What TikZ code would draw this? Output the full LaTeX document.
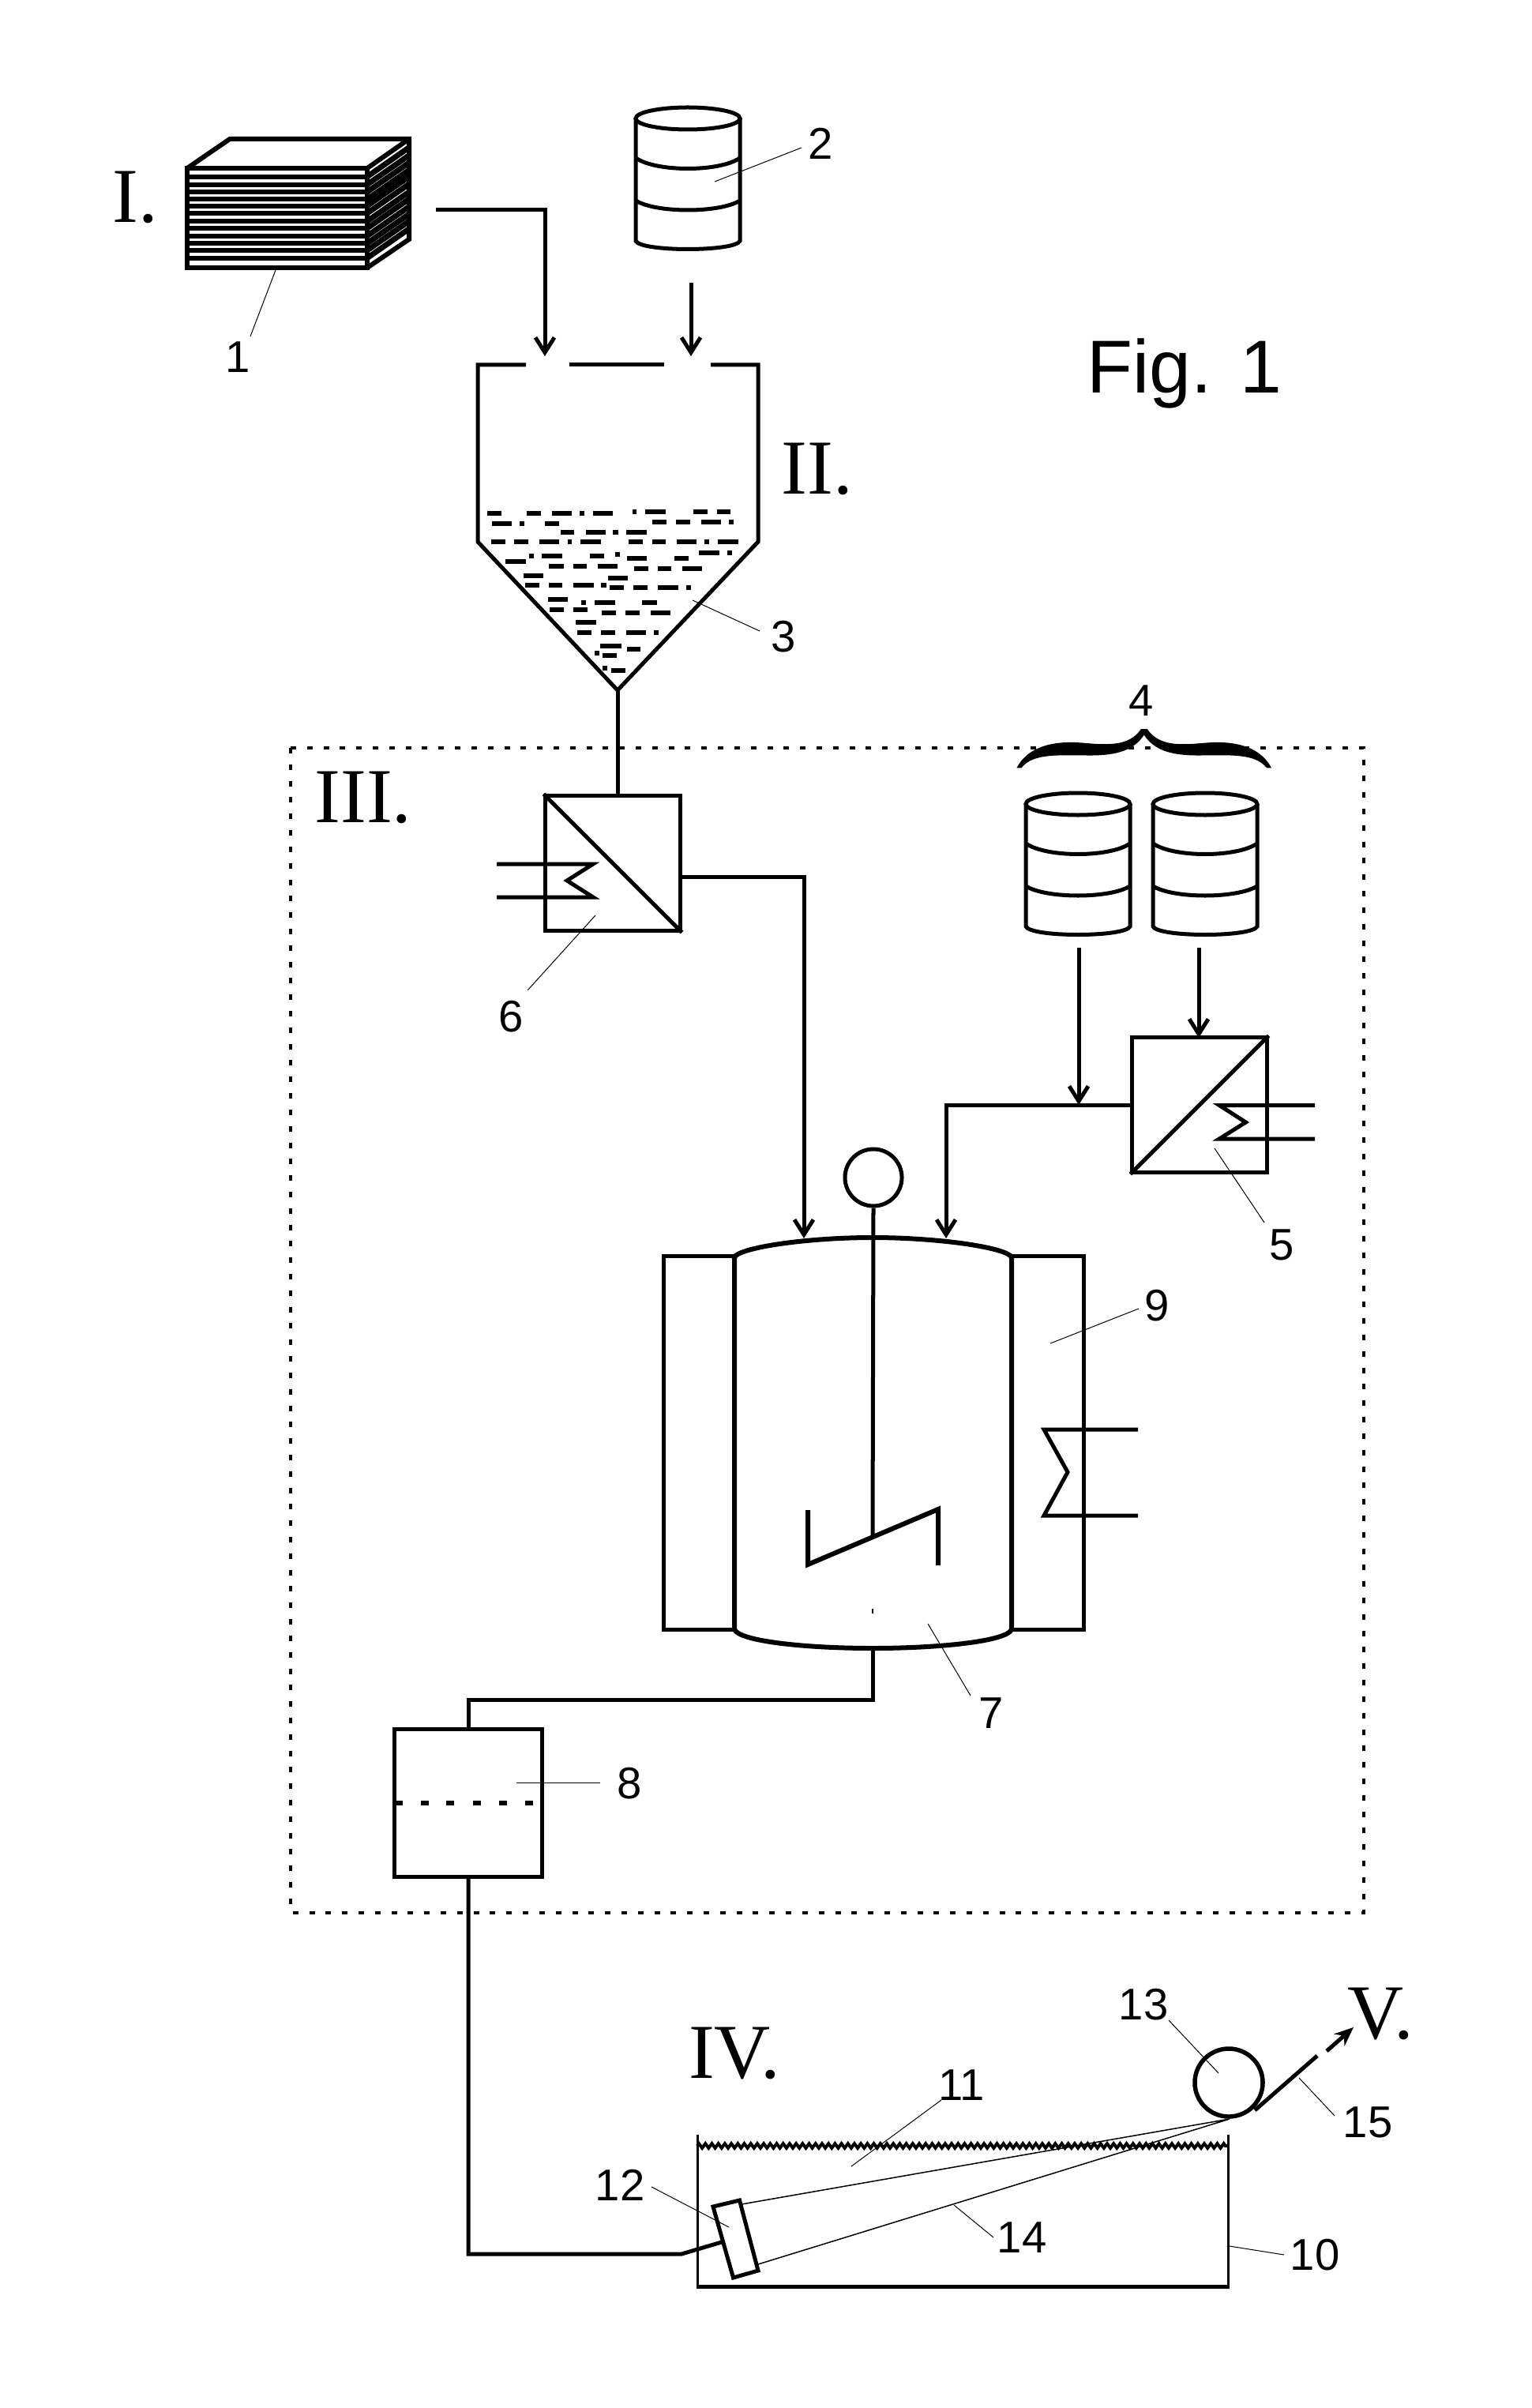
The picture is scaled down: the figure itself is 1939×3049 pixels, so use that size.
\documentclass[tikz,border=0pt]{standalone}
\usepackage{fontspec}
\setmainfont{Liberation Sans}
\newfontfamily\romanfont{Liberation Serif}
\usetikzlibrary{arrows.meta,decorations.pathmorphing}
\tikzset{
  main/.style={line width=0.05cm,draw=black,line cap=butt},
  thickmain/.style={line width=0.06cm,draw=black},
  leader/.style={line width=0.01cm,draw=black},
  film/.style={line width=0.015cm,draw=black},
  flow/.style={main,-{Straight Barb[length=0.19cm,width=0.24cm,line width=0.05cm]}},
  num/.style={font=\fontsize{16}{18}\selectfont,inner sep=0pt},
  stage/.style={font=\romanfont\fontsize{28}{32}\selectfont,inner sep=0pt},
  unitbox/.style={main,rectangle,inner sep=0pt,minimum width=1.70cm,minimum height=1.70cm},
  zone/.style={line width=0.04cm,draw=black,dash pattern=on 0.07cm off 0.138cm},
}
\newcommand{\drumshape}[2]{%
  \begin{scope}[shift={(#1,#2)}]
    \draw[main] (0,0) ellipse [x radius=66,y radius=14];
    \draw[main] (-66,0) -- (-66,155) .. controls (-60,169) and (60,169) .. (66,155) -- (66,0);
    \draw[main] (-66,50) .. controls (-40,68) and (40,68) .. (66,50);
    \draw[main] (-66,104) .. controls (-40,120) and (40,120) .. (66,104);
  \end{scope}}
\newcommand{\leaderline}[5]{%
  \coordinate (#1a) at (#2,#3);
  \coordinate (#1b) at (#4,#5);
  \draw[leader] (#1a) -- (#1b);}
\begin{document}
\begin{tikzpicture}[x=0.01cm,y=-0.01cm]
\useasboundingbox (0,0) rectangle (1939,3049);
\fill[white] (0,0) rectangle (1939,3049);

% stage zone
\draw[zone] (368,947) rectangle (1727,2422);

% stack 1
\draw[thickmain] (237,213) -- (291,176) -- (518,176) -- (518,303) -- (465,339);
\draw[thickmain] (465,213) -- (518,176);
\foreach \y in {223.7,233.7,243,252.3,260.7,270,280,289,298.7,308,317,326.7}{
  \draw[line width=0.06cm] (237,\y) -- (465,\y);
  \draw[line width=0.07cm] (465,\y) -- (518,\y-37);
}
\draw[thickmain] (237,213) rectangle (465,339);

% drum 2 and drums 4
\drumshape{871}{150}
\drumshape{1365}{1018}
\drumshape{1526}{1018}

% hopper
\coordinate (apex) at (782,874);
\coordinate (hl) at (605,462);
\coordinate (hr) at (960,462);
\draw[main] (666,462) -- (hl) -- (605,686) -- (apex) -- (960,686) -- (hr) -- (900,462);
\draw[main] (720.5,462) -- (841,462);
\foreach \yy/\a/\b in {150/171/225,150/321/375,150/417/492,150/522/540,150/573/648,
 144/723/738,144/771/849,144/954/1008,144/1044/1095,
 188/189/264,188/294/312,188/390/444,
 182/798/852,182/888/942,182/984/1059,182/1089/1107,
 222/450/501,222/546/621,222/648/669,222/699/777,
 258/186/240,258/273/327,258/369/444,258/477/492,258/525/603,258/708/762,258/798/849,258/891/966,258/996/1014,258/1047/1125,
 312/330/348,312/378/456,312/561/615,306/657/675,333/240/318,320/702/777,320/882/936,300/975/1053,300/1083/1101,
 351/405/462,351/498/549,351/591/666,360/729/783,360/819/870,360/912/987,
 387/309/384,396/630/705,
 424/315/369,424/405/456,424/498/576,424/603/624,
 433/636/690,433/726/780,433/819/897,433/927/945,
 478/402/477,489/528/546,489/579/657,489/759/816,
 516/408/462,516/498/552,528/606/660,528/696/750,528/792/867,
 565/507/585,603/513/567,603/603/657,603/699/774,603/804/822,
 654/600/681,666/702/753,681/579/597,690/609/663,737/609/627,747/642/696}{
  \fill[black] ({560+\a/3},{600+(\yy-9)/3}) rectangle ({560+\b/3},{600+(\yy+9)/3});
}

% feed arrows
\coordinate (s1) at (551.5,266);
\coordinate (h1) at (690,451);
\draw[flow] (s1) -| (h1);
\coordinate (s2) at (875,358);
\coordinate (h2) at (875,451);
\draw[flow] (s2) -- (h2);

% box 6
\node[unitbox] (box6) at (776,1093) {};
\draw[main] (box6.north west) -- (box6.south east);
\draw[main] (apex) -- (apex |- box6.north);
\coordinate (z6a) at (629,1094);
\coordinate (z6b) at (751,1094);
\coordinate (z6c) at (718,1115);
\coordinate (z6d) at (751,1136);
\coordinate (z6e) at (629,1136);
\draw[main] (z6a) -- (z6b) -- (z6c) -- (z6d) -- (z6e);
\coordinate (o6) at (861,1110);
\coordinate (in7a) at (1018,1568);
\draw[flow] (o6) -| (in7a);

% box 5
\node[unitbox] (box5) at (1519,1399) {};
\draw[main] (box5.south west) -- (box5.north east);
\coordinate (z5a) at (1665,1399.5);
\coordinate (z5b) at (1544,1399.5);
\coordinate (z5c) at (1577.5,1421);
\coordinate (z5d) at (1544,1442);
\coordinate (z5e) at (1665,1442);
\draw[main] (z5a) -- (z5b) -- (z5c) -- (z5d) -- (z5e);
\coordinate (o5) at (1434,1399.5);
\coordinate (in7b) at (1198,1568);
\draw[flow] (o5) -| (in7b);
\coordinate (d4a) at (1366,1200);
\coordinate (d4b) at (1366,1399);
\coordinate (d4c) at (1518,1200);
\coordinate (d4d) at (1518,1314);
\draw[flow] (d4a) -- (d4b);
\draw[flow] (d4c) -- (d4d);

% brace 4
\begin{scope}[shift={(1270,860)},x=0.003333cm,y=-0.003333cm]
  \fill[black] (52,338) .. controls (90,265) and (170,240) .. (260,240)
     .. controls (340,240) and (470,275) .. (525,190) -- (550,190)
     .. controls (604,275) and (734,240) .. (814,240)
     .. controls (904,240) and (984,265) .. (1022,338) -- (1004,338)
     .. controls (960,280) and (860,290) .. (740,290)
     .. controls (640,290) and (575,270) .. (537,212)
     .. controls (499,270) and (434,290) .. (334,290)
     .. controls (214,290) and (114,280) .. (70,338) -- cycle;
\end{scope}

% vessel 7
\draw[main] (930,1590) -- (840,1590) -- (840,2063) -- (930,2063);
\draw[main] (1281,1590) -- (1372,1590) -- (1372,2063) -- (1281,2063);
\draw[thickmain] (930,2063) -- (930,1592) .. controls (935,1580) and (1020,1567) .. (1105,1567)
   .. controls (1190,1567) and (1276,1580) .. (1281,1592) -- (1281,2063)
   .. controls (1276,2078) and (1190,2087) .. (1105,2087)
   .. controls (1020,2087) and (935,2078) .. (930,2063) -- cycle;
\node[main,circle,inner sep=0pt,minimum size=0.72cm] (motor) at (1106,1491) {};
\coordinate (hub) at (1105,1945);
\draw[main] (motor.south) -- (hub);
\draw[thickmain] (1023,1912) -- (1023,1981) -- (1188,1911) -- (1188,1982);
\fill[black] (1104,2037) rectangle (1106,2043);

% coil on jacket
\coordinate (z9a) at (1441,1810);
\coordinate (z9b) at (1322,1810);
\coordinate (z9c) at (1352,1864);
\coordinate (z9d) at (1322,1919);
\coordinate (z9e) at (1441,1919);
\draw[main] (z9a) -- (z9b) -- (z9c) -- (z9d) -- (z9e);

% tank 8
\node[main,rectangle,inner sep=0pt,minimum width=1.86cm,minimum height=1.86cm] (tank8) at (593,2283) {};
\coordinate (v7) at (1105,2087);
\coordinate (k1) at (1105,2152);
\draw[main] (v7) -- (k1) -| (tank8.north);
\foreach \x in {500,533,565,599,632,665}{
  \fill[black] (\x,2280) rectangle (\x+10,2286);
}

% casting line
\coordinate (n12) at (917,2838);
\coordinate (k2) at (863,2854);
\draw[main] (tank8.south) |- (k2) -- (n12);

% bath 10
\draw[line width=0.03cm] (883,2703) -- (883,2895);
\draw[line width=0.03cm] (1555,2703) -- (1555,2895);
\draw[line width=0.05cm] (881.5,2895) -- (1556.5,2895);
\draw[line width=0.04cm,decorate,decoration={zigzag,segment length=0.082cm,amplitude=0.028cm}] (883,2717) -- (1555,2717);

% nozzle 12
\coordinate (noz1) at (903,2794);
\coordinate (noz2) at (936.5,2786);
\coordinate (noz3) at (960,2875);
\coordinate (noz4) at (928.5,2884);
\draw[main,fill=white] (noz1) -- (noz2) -- (noz3) -- (noz4) -- cycle;

% film 14
\coordinate (f0) at (1557,2683);
\coordinate (f1) at (939,2791);
\coordinate (f2) at (960,2867);
\draw[film] (f1) -- (f0) -- (f2);

% roller 13
\node[line width=0.055cm,draw=black,circle,inner sep=0pt,minimum size=0.86cm] (roller) at (1556,2637) {};
\coordinate (t1) at (1589,2672);
\coordinate (t2) at (1668,2603);
\coordinate (t3) at (1680,2597);
\coordinate (t4) at (1714,2567);
\draw[main] (t1) -- (t2);
\draw[main,-{Stealth[length=0.24cm,width=0.2cm]}] (t3) -- (t4);

% leaders
\leaderline{l1}{349}{342}{317}{426}
\leaderline{l2}{905}{230}{1015}{187}
\leaderline{l3}{877}{760}{962}{799}
\leaderline{l5}{1538}{1454}{1601}{1548}
\leaderline{l6}{754}{1159}{668}{1254}
\leaderline{l7}{1175}{2056}{1229}{2147}
\leaderline{l8}{654}{2257}{760}{2257}
\leaderline{l9}{1330}{1701}{1442}{1657}
\leaderline{l10}{1557}{2844}{1626}{2855}
\leaderline{l11}{1078}{2743}{1192}{2659}
\leaderline{l12}{825}{2769}{923}{2820}
\leaderline{l13}{1480}{2558}{1543}{2625}
\leaderline{l14}{1208}{2792}{1258}{2833}
\leaderline{l15}{1645}{2631}{1690}{2679}

% numbers
\node[num] (n1) at (301,452) {1};
\node[num] (n2) at (1039,182) {2};
\node[num] (n3) at (992,806) {3};
\node[num] (n4) at (1445,887) {4};
\node[num] (n5) at (1623,1576) {5};
\node[num] (n6) at (647,1287) {6};
\node[num] (n7) at (1255,2169) {7};
\node[num] (n8) at (797,2258) {8};
\node[num] (n9) at (1465,1653) {9};
\node[num] (n10) at (1665,2855) {10};
\node[num] (n11) at (1218,2640) {11};
\node[num] (n12b) at (785,2767) {12};
\node[num] (n13) at (1448,2538) {13};
\node[num] (n14) at (1294,2833) {14};
\node[num] (n15) at (1732,2687) {15};

% stages
\node[stage] (sI) at (171,250) {I.};
\node[stage] (sII) at (1035,594) {II.};
\node[stage] (sIII) at (460,1010) {III.};
\node[stage] (sIV) at (930,2600) {IV.};
\node[stage] (sV) at (1748,2550) {V.};
\node[font=\fontsize{27}{30}\selectfont,inner sep=0pt,anchor=base] (fig) at (1500,498) {Fig. 1};
\end{tikzpicture}
\end{document}
